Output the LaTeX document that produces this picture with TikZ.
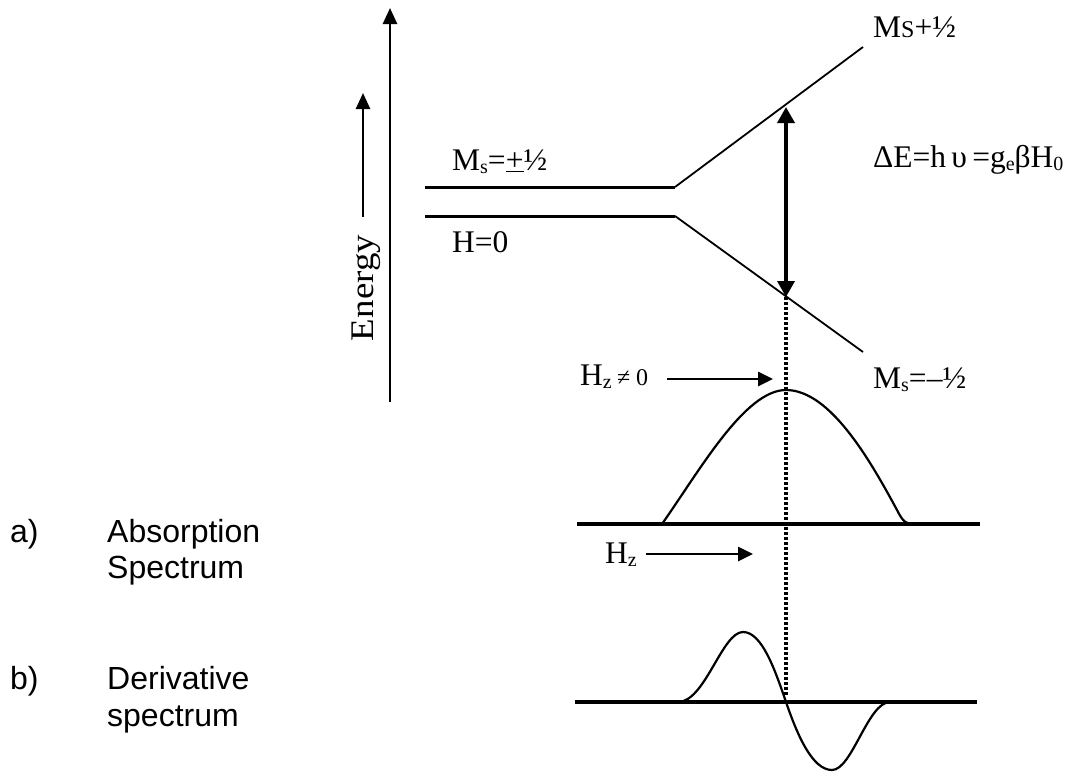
\documentclass[tikz,border=0pt]{standalone}
\usepackage{fontspec}
\setmainfont{Liberation Serif}
\newfontfamily\sansf{Liberation Sans}
\usetikzlibrary{arrows.meta}
\newcommand{\lowsub}[1]{\raisebox{-3pt}{\fontsize{20}{20}\selectfont #1}}
\begin{document}
\begin{tikzpicture}[x=1pt,y=-1pt,
  lbl/.style={anchor=base west, inner sep=0pt, font=\fontsize{31.5}{31.5}\selectfont},
  sanslbl/.style={anchor=base west, inner sep=0pt, font=\sansf\fontsize{32}{37}\selectfont},
  level/.style={line width=3pt},
  diag/.style={line width=1.8pt},
  axis/.style={line width=2.6pt, -{Triangle[length=16pt,width=14pt]}},
  hzarrow/.style={line width=2.6pt, -{Triangle[length=15pt,width=14pt]}},
  dblarrow/.style={line width=3.6pt, {Triangle[length=16pt,width=17pt]}-{Triangle[length=16pt,width=17pt]}},
  base/.style={line width=3.6pt},
  curve/.style={line width=2.2pt, line join=round},
  dots/.style={line width=4pt, dash pattern=on 3pt off 2pt}
]
\useasboundingbox (0,0) rectangle (1072,772);

% energy axes
\coordinate (bigB) at (390,402);
\coordinate (bigT) at (390,8);
\draw[axis] (bigB) -- (bigT);
\coordinate (smB) at (363,217);
\coordinate (smT) at (363,93);
\draw[axis] (smB) -- (smT);
\node[rotate=90, anchor=base, inner sep=0pt, font=\fontsize{33}{33}\selectfont] (energy) at (373,288) {\scalebox{1.12}[1]{Energy}};

% levels
\coordinate (u0) at (425,187);
\coordinate (u1) at (675,187);
\coordinate (u2) at (863,47);
\coordinate (l0) at (425,216);
\coordinate (l1) at (675,216);
\coordinate (l2) at (863,352);
\draw[level] (u0) -- (u1);
\draw[level] (l0) -- (l1);
\draw[diag] (u1) -- (u2);
\draw[diag] (l1) -- (l2);

% transition
\coordinate (tU) at (786,107);
\coordinate (tL) at (786,297);
\draw[dblarrow] (tL) -- (tU);

% labels
\node[lbl] (ms) at (452,170) {M\lowsub{s}=\underline{+}½};
\node[lbl] (h0) at (452,252) {H=0};
\node[lbl] (msp) at (873,37) {M{\fontsize{24}{24}\selectfont S}+½};
\node[lbl] (de) at (873,167) {ΔE=h\,υ\,=g\lowsub{e}βH\lowsub{0}};
\node[lbl] (msm) at (873,388) {M\lowsub{s}=–½};
\node[lbl] (hzne) at (580,385) {H\lowsub{z}\,{\fontsize{24}{24}\selectfont ≠ 0}};
\node[lbl] (hz) at (605,563) {H\lowsub{z}};

% Hz arrows
\coordinate (a1s) at (667,379);
\coordinate (a1e) at (773,379);
\draw[hzarrow] (a1s) -- (a1e);
\coordinate (a2s) at (646,554);
\coordinate (a2e) at (753,554);
\draw[hzarrow] (a2s) -- (a2e);

% baselines
\coordinate (b1s) at (577,524);
\coordinate (b1e) at (980,524);
\draw[base] (b1s) -- (b1e);
\coordinate (b2s) at (575,702);
\coordinate (b2e) at (977,702);
\draw[base] (b2s) -- (b2e);

% absorption curve
\coordinate (abs0) at (662,524);
\coordinate (absP) at (786,390);
\coordinate (abs1) at (897,510);
\coordinate (abs2) at (914,524);
\draw[curve] (abs0) .. controls (700,470) and (745,390) .. (absP)
  .. controls (830,390) and (870,460) .. (abs1)
  .. controls (903,522) and (906,524) .. (abs2);

% derivative curve
\coordinate (d0) at (678,702);
\coordinate (dP) at (743,632);
\coordinate (dZ) at (786,702);
\coordinate (dT) at (832,770);
\coordinate (d1) at (890,702);
\draw[curve] (d0) .. controls (705,702) and (722,632) .. (dP)
  .. controls (762,632) and (775,670) .. (dZ)
  .. controls (797,734) and (812,770) .. (dT)
  .. controls (852,770) and (868,702) .. (d1);

% dotted guide
\coordinate (dotB) at (786,695);
\draw[dots] (tL) -- (dotB);

% side labels
\node[sanslbl] (la) at (10,542) {a)};
\node[sanslbl] (la1) at (107,542) {Absorption};
\node[sanslbl] (la2) at (107,578) {Spectrum};
\node[sanslbl] (lb) at (10,689) {b)};
\node[sanslbl] (lb1) at (107,689) {Derivative};
\node[sanslbl] (lb2) at (107,726) {spectrum};
\end{tikzpicture}
\end{document}
